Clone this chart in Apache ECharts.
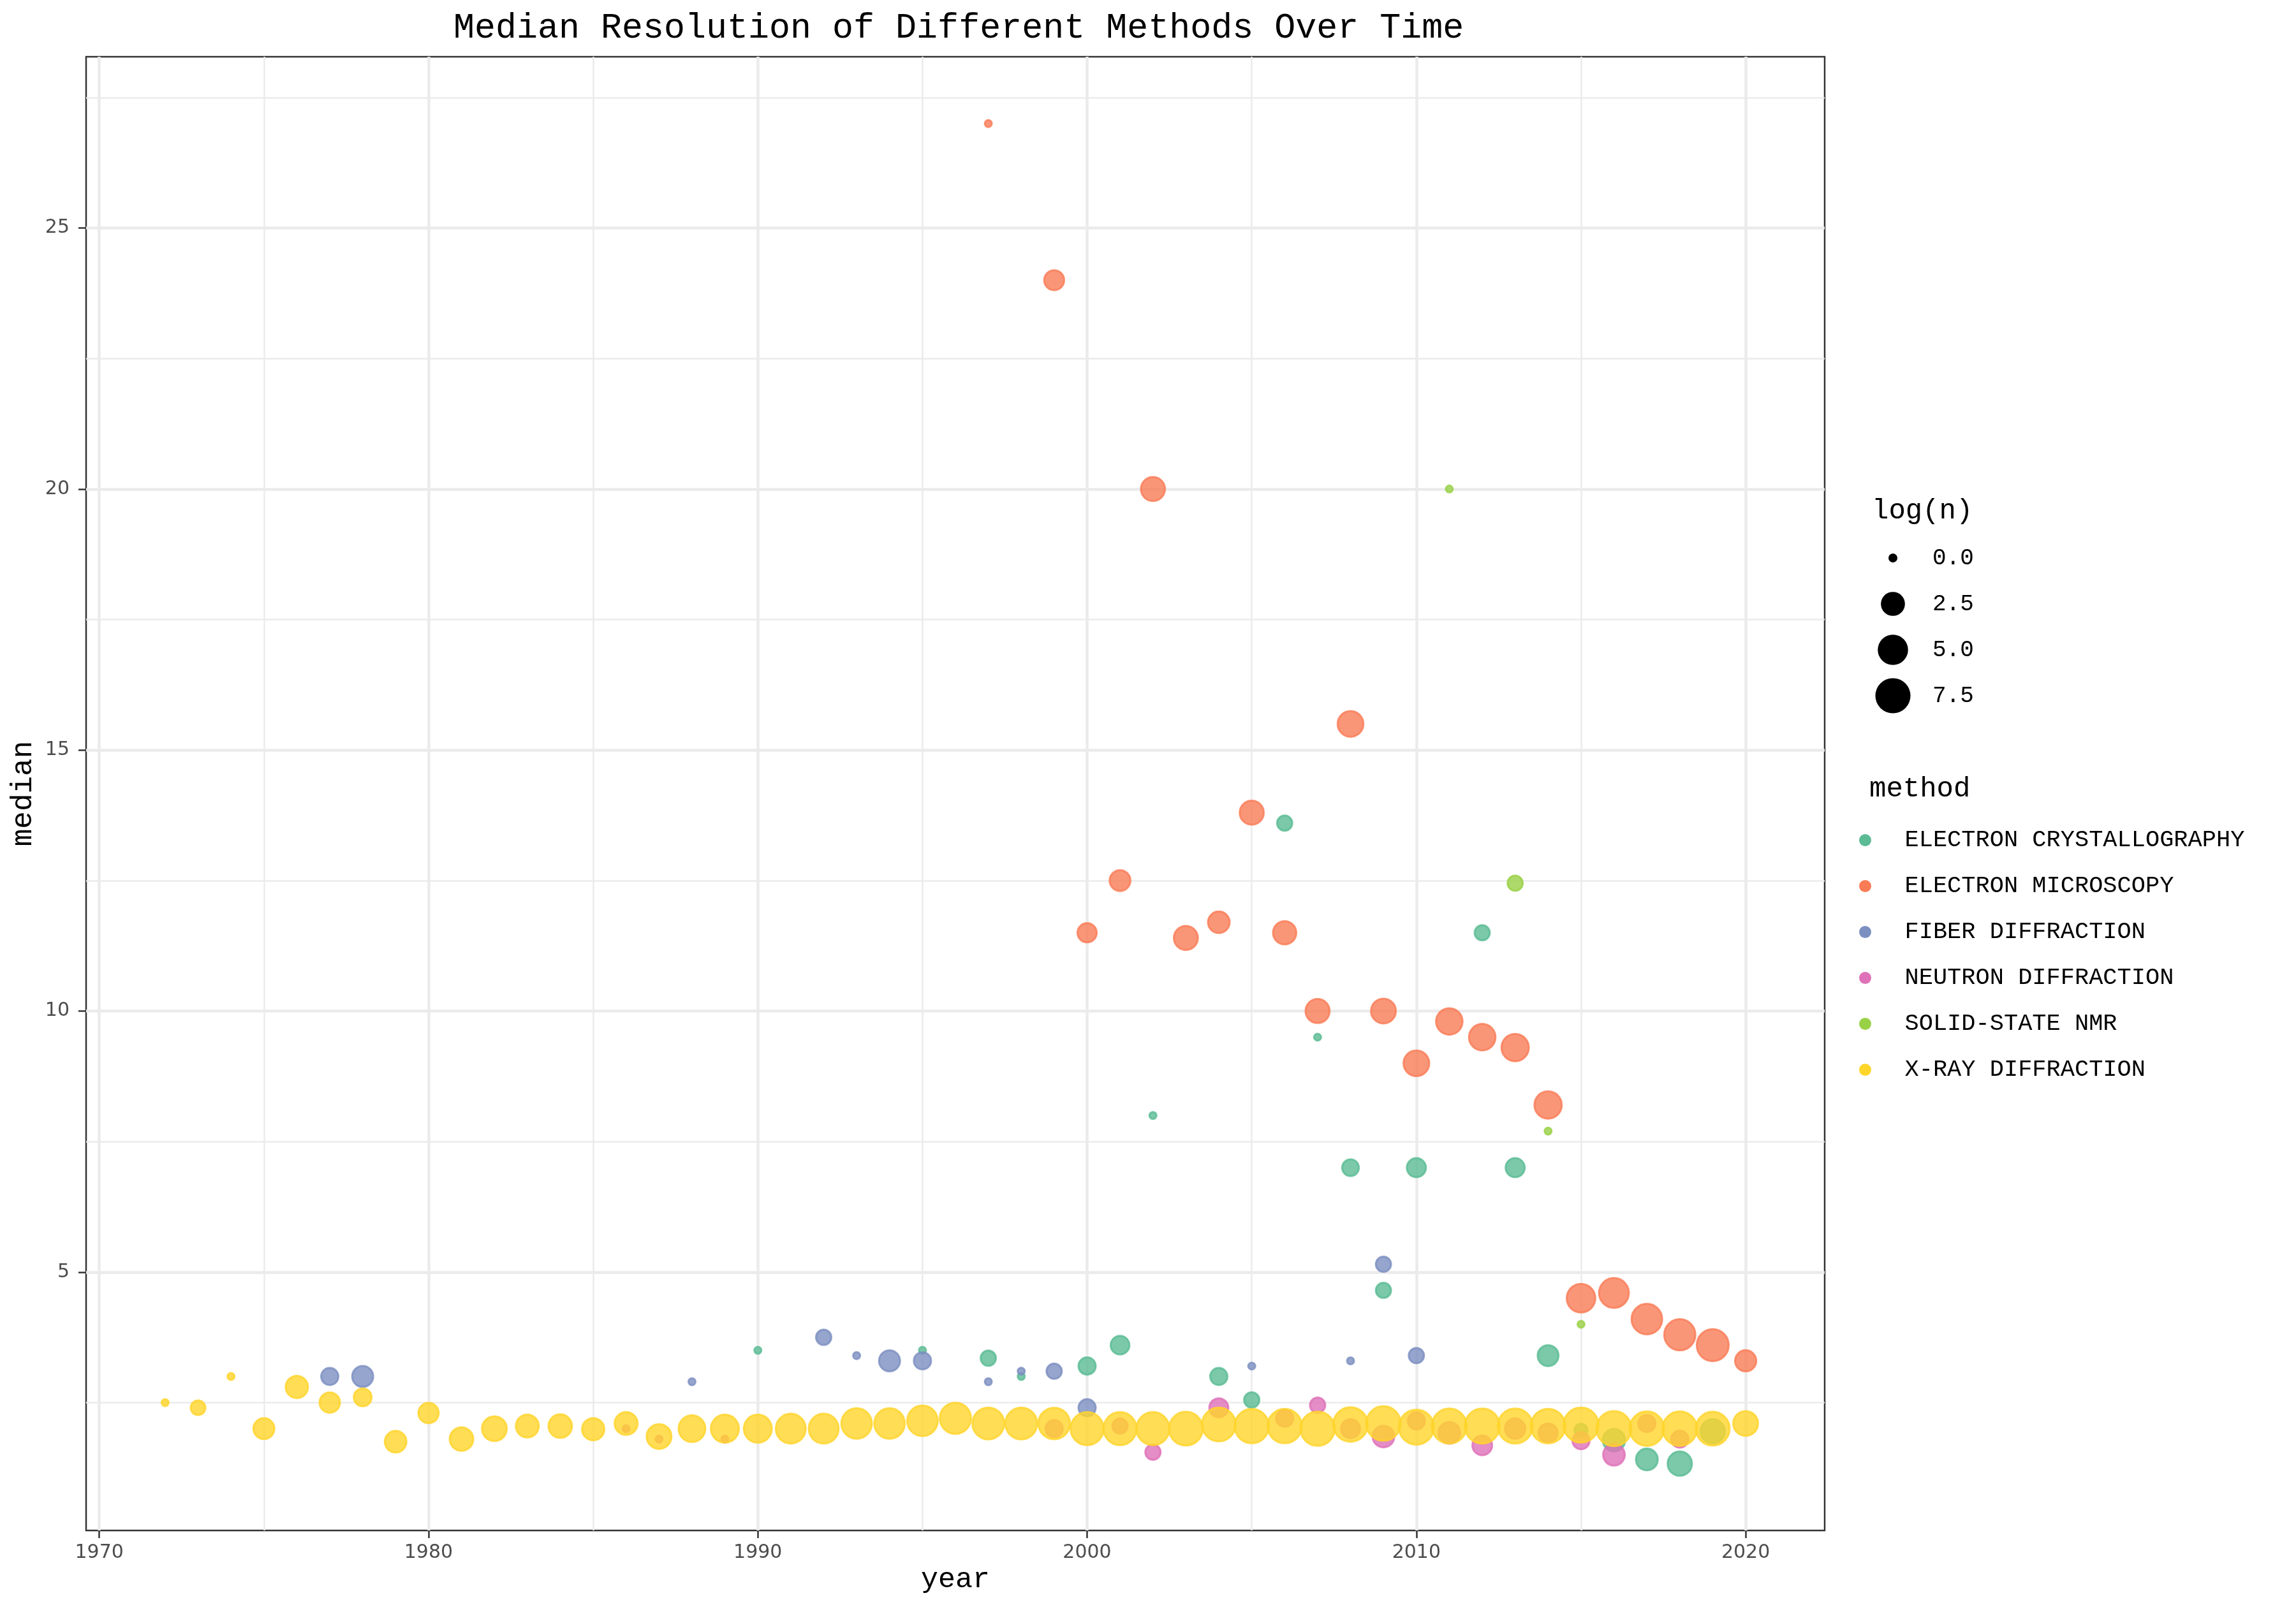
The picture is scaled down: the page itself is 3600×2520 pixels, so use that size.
<!DOCTYPE html>
<html lang="en">
<head>
	<meta charset="UTF-8">
	<title>Median Resolution of Different Methods Over Time</title>
	<script src="https://cdn.jsdelivr.net/npm/echarts@6/dist/echarts.min.js" type="text/javascript"></script>
	<style>
		html,body{margin:0;padding:0;background:#fff;}
		#chart{width:3600px;height:2520px;}
	</style>
</head>
<body>
<div id="chart"></div>
<script>
	// data: year, median resolution, log(n)
	var ecYear   = [1990,1995,1997,1998,2000,2001,2002,2004,2005,2006,2007,2008,2009,2010,2012,2013,2014,2015,2016,2017,2018,2019];
	var ecMedian = [3.5,3.5,3.35,3.0,3.2,3.6,8.0,3.0,2.55,13.6,9.5,7.0,4.65,7.0,11.5,7.0,3.4,1.97,1.78,1.41,1.33,1.95];
	var ecLogN   = [0,0,0.75,0,1.14,1.5,0,1.14,0.75,0.73,0,1.04,0.73,1.6,0.73,1.6,2.1,0.4,2.6,2.4,3.3,3.3];

	var emYear   = [1997,1999,2000,2001,2002,2003,2004,2005,2006,2007,2008,2009,2010,2011,2012,2013,2014,2015,2016,2017,2018,2019,2020];
	var emMedian = [27,24,11.5,12.5,20,11.4,11.7,13.8,11.5,10,15.5,10,9,9.8,9.5,9.3,8.2,4.5,4.6,4.1,3.8,3.6,3.3];
	var emLogN   = [0,1.85,1.64,2.09,3.19,3.19,2.35,3.19,2.89,3.19,3.84,3.48,3.84,4.16,4.16,4.52,4.52,5.1,5.7,6.1,6.4,6.8,2.2];

	var fiYear   = [1977,1978,1988,1992,1993,1994,1995,1997,1998,1999,2000,2005,2008,2009,2010];
	var fiMedian = [3.0,3.0,2.9,3.75,3.4,3.3,3.3,2.9,3.1,3.1,2.4,3.2,3.3,5.15,3.4];
	var fiLogN   = [1.14,2.15,0,0.75,0,2.15,1.14,0,0,0.75,1.14,0,0,0.73,0.75];

	var neYear   = [1986,1987,1989,1999,2001,2002,2004,2006,2007,2008,2009,2010,2011,2012,2013,2014,2015,2016,2017,2018];
	var neMedian = [2.0,1.8,1.8,2.0,2.05,1.55,2.4,2.2,2.45,2.0,1.85,2.15,1.92,1.68,2.0,1.92,1.77,1.5,2.1,1.8];
	var neLogN   = [0,0,0,1.14,0.75,0.75,1.6,1.14,0.75,1.6,2.35,1.14,2.35,1.78,1.96,1.6,1.14,2.35,1.14,1.14];

	var nmYear   = [2011,2013,2014,2015];
	var nmMedian = [20.0,12.45,7.7,4.0];
	var nmLogN   = [0,0.73,0,0];

	var xrYear   = [1972,1973,1974,1975,1976,1977,1978,1979,1980,1981,1982,1983,1984,1985,1986,1987,1988,1989,1990,1991,1992,1993,1994,1995,1996,1997,1998,1999,2000,2001,2002,2003,2004,2005,2006,2007,2008,2009,2010,2011,2012,2013,2014,2015,2016,2017,2018,2019,2020];
	var xrMedian = [2.5,2.4,3.0,2.0,2.8,2.5,2.6,1.75,2.3,1.8,2.0,2.05,2.05,1.99,2.1,1.85,2.0,2.0,2.0,2.0,2.0,2.1,2.1,2.15,2.2,2.1,2.1,2.1,2.0,2.0,2.0,2.0,2.08,2.05,2.05,2.0,2.08,2.1,2.03,2.05,2.05,2.05,2.05,2.07,2.0,2.0,2.0,2.0,2.1];
	var xrLogN   = [0,0.64,0,2.15,2.56,1.96,1.28,2.35,1.96,3.0,3.48,2.78,3.0,2.56,2.78,3.48,4.27,4.84,4.84,5.76,5.76,6.08,6.08,6.08,6.42,6.76,6.76,6.6,7.47,7.47,7.47,7.84,7.84,8.2,8.2,8.2,8.3,8.3,8.6,8.6,8.6,8.6,8.3,8.6,8.6,8.3,8.3,7.84,3.48];

	var methods = ['ELECTRON CRYSTALLOGRAPHY','ELECTRON MICROSCOPY','FIBER DIFFRACTION','NEUTRON DIFFRACTION','SOLID-STATE NMR','X-RAY DIFFRACTION'];
	var methodColors = ['90,187,148','249,124,86','124,143,193','223,113,184','153,209,70','255,213,42'];
	var xMajor = [1970,1980,1990,2000,2010,2020];
	var xMinor = [1975,1985,1995,2005,2015];
	var yMajor = [5,10,15,20,25];
	var yMinor = [2.5,7.5,12.5,17.5,22.5,27.5];
	var sizeBreaks = [0,2.5,5.0,7.5];

	var monoFont = '"Liberation Mono", "Courier New", monospace';
	var tickFont = '"DejaVu Sans", sans-serif';

	// point diameter from log(n), area-like scale
	function dotSize(v){
		return 14 + 15*Math.sqrt(v);
	}
	function zip(xs,ys,ss){
		var out=[];
		for(var i=0;i<xs.length;i++){
			out.push([xs[i],ys[i],ss[i]]);
		}
		return out;
	}

	var allData = [
		zip(ecYear,ecMedian,ecLogN),
		zip(emYear,emMedian,emLogN),
		zip(fiYear,fiMedian,fiLogN),
		zip(neYear,neMedian,neLogN),
		zip(nmYear,nmMedian,nmLogN),
		zip(xrYear,xrMedian,xrLogN)
	];

	var series=[];
	var legendData=[];
	for(var i=0;i<methods.length;i++){
		var c='rgba('+methodColors[i]+',0.8)';
		series.push({
			name: methods[i],
			type: 'scatter',
			xAxisIndex: 0,
			yAxisIndex: 0,
			data: allData[i],
			symbol: 'circle',
			symbolSize: function(v){ return dotSize(v[2]) - 3; },
			itemStyle: {color: c, borderColor: c, borderWidth: 3, opacity: 1},
			emphasis: {disabled: true}
		});
		legendData.push({name: methods[i], itemStyle: {color: 'rgb('+methodColors[i]+')', borderWidth: 0}});
	}

	// size legend drawn by hand
	var graphics=[
		{type:'text', x:2935, y:801, style:{text:'log(n)', font:'44px '+monoFont, fill:'#000', verticalAlign:'middle', align:'left'}},
		{type:'text', x:2931, y:1237, style:{text:'method', font:'44px '+monoFont, fill:'#000', verticalAlign:'middle', align:'left'}}
	];
	for(var k=0;k<sizeBreaks.length;k++){
		var cy=875+72*k;
		graphics.push({type:'circle', shape:{cx:2968, cy:cy, r:dotSize(sizeBreaks[k])/2}, style:{fill:'#000'}});
		graphics.push({type:'text', x:3030, y:cy, style:{text:sizeBreaks[k].toFixed(1), font:'36px '+monoFont, fill:'#000', verticalAlign:'middle', align:'left'}});
	}

	var myChart = echarts.init(document.getElementById('chart'), null, {renderer:'canvas'});
	var option = {
		backgroundColor: '#ffffff',
		animation: false,
		title: {
			text: 'Median Resolution of Different Methods Over Time',
			left: 706,
			top: 12,
			textStyle: {fontFamily: monoFont, fontSize: 55, fontWeight: 'normal', color: '#000'}
		},
		grid: {
			left: 135, right: 739, top: 89, bottom: 120,
			show: true, borderColor: '#333333', borderWidth: 2.5, backgroundColor: '#ffffff'
		},
		legend: {
			orient: 'vertical',
			left: 2910,
			top: 1294,
			icon: 'circle',
			itemWidth: 114,
			itemHeight: 19,
			itemGap: 35,
			data: legendData,
			textStyle: {fontFamily: monoFont, fontSize: 37, color: '#000', lineHeight: 37},
			selectedMode: false
		},
		xAxis: [{
			type: 'value',
			min: 1969.6,
			max: 2022.4,
			name: 'year',
			nameLocation: 'middle',
			nameGap: 52,
			nameTextStyle: {fontFamily: monoFont, fontSize: 45, color: '#000'},
			axisLine: {show: false},
			axisTick: {show: true, length: 12, customValues: xMajor, lineStyle: {color: '#333333', width: 2.5}},
			axisLabel: {customValues: xMajor, margin: 20, fontFamily: tickFont, fontSize: 30, color: '#4D4D4D',
				formatter: function(v){ return String(v); }},
			splitLine: {show: true, lineStyle: {color: '#EBEBEB', width: 4.5}}
		},{
			type: 'value',
			min: 1969.6,
			max: 2022.4,
			position: 'bottom',
			axisLine: {show: false},
			axisTick: {show: false, customValues: xMinor},
			axisLabel: {show: false, customValues: xMinor},
			splitLine: {show: true, lineStyle: {color: '#EBEBEB', width: 2.5}}
		}],
		yAxis: [{
			type: 'value',
			min: 0.05,
			max: 28.28,
			name: 'median',
			nameLocation: 'middle',
			nameGap: 74,
			nameTextStyle: {fontFamily: monoFont, fontSize: 46, color: '#000'},
			axisLine: {show: false},
			axisTick: {show: true, length: 12, customValues: yMajor, lineStyle: {color: '#333333', width: 2.5}},
			axisLabel: {customValues: yMajor, margin: 26, fontFamily: tickFont, fontSize: 30, color: '#4D4D4D'},
			splitLine: {show: true, lineStyle: {color: '#EBEBEB', width: 4.5}}
		},{
			type: 'value',
			min: 0.05,
			max: 28.28,
			position: 'left',
			axisLine: {show: false},
			axisTick: {show: false, customValues: yMinor},
			axisLabel: {show: false, customValues: yMinor},
			splitLine: {show: true, lineStyle: {color: '#EBEBEB', width: 2.5}}
		}],
		graphic: graphics,
		series: series
	};
	myChart.setOption(option);
</script>
</body>
</html>
